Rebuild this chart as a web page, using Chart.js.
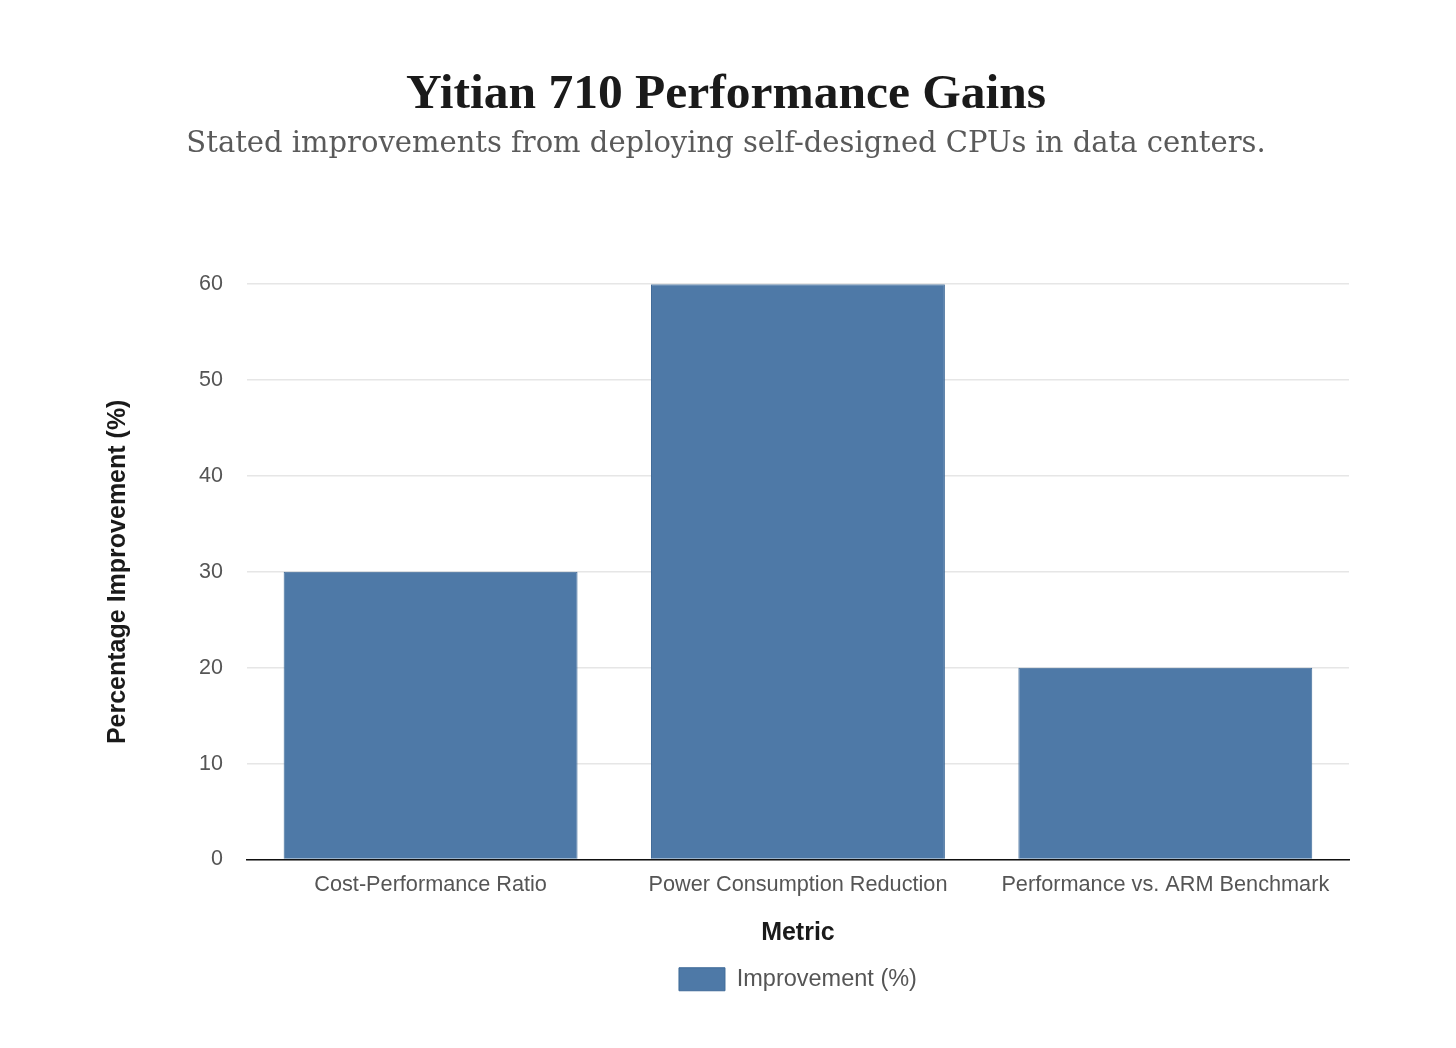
<!DOCTYPE html>
<html>
<head>
<meta charset="utf-8">
<script src="https://cdn.jsdelivr.net/npm/chart.js@4.4.0/dist/chart.umd.min.js"></script>
<style>
  html, body { margin: 0; padding: 0; background: #ffffff; }
  #wrap { width: 1456px; height: 1048px; }
</style>
</head>
<body>
<div id="wrap"><canvas id="c" width="1456" height="1048"></canvas></div>
<script>
const categories = ["Cost-Performance Ratio", "Power Consumption Reduction", "Performance vs. ARM Benchmark"];
const improvementValues = [30, 60, 20];
const seriesLabel = "Improvement (%)";
const titleText = "Yitian 710 Performance Gains";
const subtitleText = "Stated improvements from deploying self-designed CPUs in data centers.";
const yAxisTitle = "Percentage Improvement (%)";
const xAxisTitle = "Metric";

new Chart(document.getElementById('c'), {
  type: 'bar',
  data: {
    labels: categories,
    datasets: [{
      label: seriesLabel,
      data: improvementValues,
      backgroundColor: '#4e79a7',
      borderColor: '#3f6a98',
      borderWidth: 1,
      barPercentage: 0.8,
      categoryPercentage: 1.0
    }]
  },
  options: {
    responsive: false,
    animation: false,
    devicePixelRatio: 1,
    layout: { padding: { left: 103, right: 107, top: 66, bottom: 47 } },
    plugins: {
      title: {
        display: true,
        text: titleText,
        color: '#1a1a1a',
        font: { family: "'Liberation Serif', serif", size: 49.5, weight: 'bold' },
        padding: { top: 0, bottom: 2 }
      },
      subtitle: {
        display: true,
        text: subtitleText,
        color: '#5a5a5a',
        font: { family: "'DejaVu Serif', serif", size: 29 },
        padding: { top: 0, bottom: 122 }
      },
      legend: {
        display: true,
        position: 'bottom',
        fullSize: false,
        labels: {
          color: '#555555',
          font: { family: "'Liberation Sans', Arial, sans-serif", size: 23.5 },
          boxWidth: 46,
          boxHeight: 23,
          padding: 12
        }
      },
      tooltip: { enabled: false }
    },
    scales: {
      x: {
        grid: { display: false, drawTicks: false },
        border: { display: true, color: '#111111', width: 1.5 },
        ticks: {
          color: '#555555',
          font: { family: "'Liberation Sans', Arial, sans-serif", size: 21.7 },
          padding: 13
        },
        title: {
          display: true,
          text: xAxisTitle,
          color: '#1a1a1a',
          font: { family: "'Liberation Sans', Arial, sans-serif", size: 25, weight: 'bold' },
          padding: { top: 7, bottom: 7 }
        }
      },
      y: {
        beginAtZero: true,
        min: 0,
        max: 60,
        grid: { color: '#e6e6e6', lineWidth: 1.5, drawTicks: false },
        border: { display: false },
        ticks: {
          stepSize: 10,
          color: '#555555',
          font: { family: "'Liberation Sans', Arial, sans-serif", size: 21.5 },
          padding: 24
        },
        title: {
          display: true,
          text: yAxisTitle,
          color: '#1a1a1a',
          font: { family: "'Liberation Sans', Arial, sans-serif", size: 25, weight: 'bold' },
          padding: { top: 0, bottom: 42 }
        }
      }
    }
  }
});
</script>
</body>
</html>
